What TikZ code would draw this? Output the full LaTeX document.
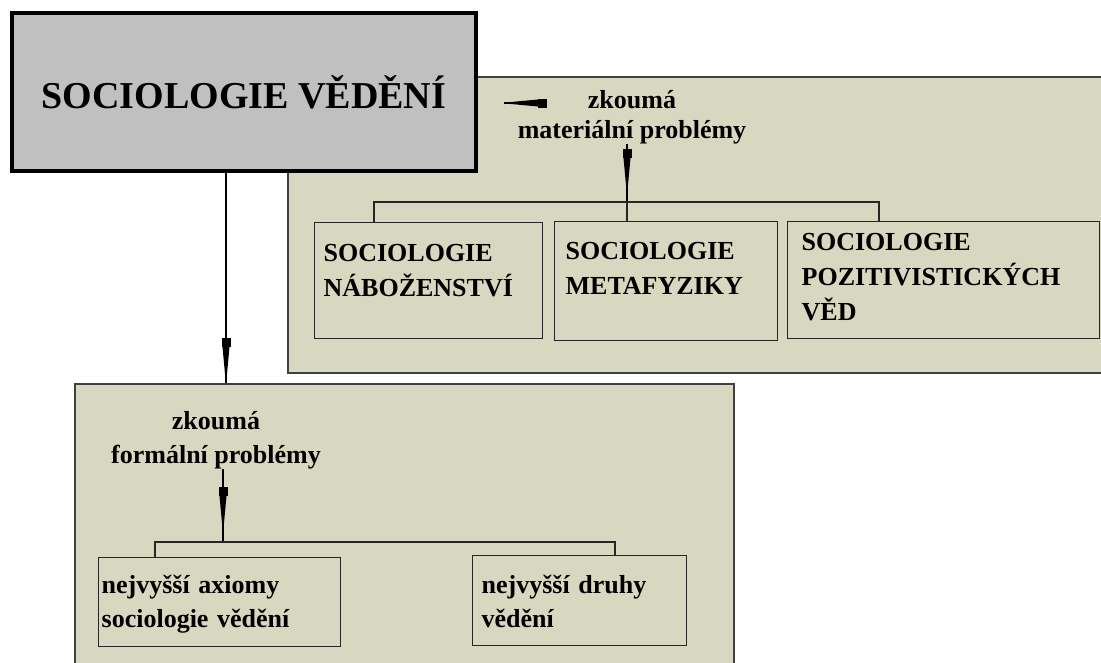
\documentclass[tikz,border=0pt]{standalone}
\usepackage{fontspec}
\setmainfont{Liberation Serif}
\usepackage{tikz}
\usetikzlibrary{arrows.meta, positioning, decorations.markings}
\definecolor{panelfill}{RGB}{216, 215, 192}
\definecolor{panelline}{RGB}{64, 64, 64}
\definecolor{titlegray}{RGB}{192, 192, 192}
\tikzstyle{panel} = [
    rectangle,
    draw=panelline,
    line width=1.6pt,
    fill=panelfill,
    anchor=north west,
    inner sep=0pt
]
\tikzstyle{headbox} = [
    rectangle,
    draw=black,
    line width=4pt,
    fill=titlegray,
    minimum width=464pt,
    minimum height=158pt,
    font=\fontsize{38}{44}\selectfont\bfseries
]
\tikzstyle{leaf} = [
    rectangle,
    draw=black!85,
    line width=1.3pt,
    fill=panelfill,
    anchor=north west,
    align=left,
    inner xsep=9pt,
    inner ysep=0pt,
    font=\fontsize{26}{35}\selectfont\bfseries
]
\tikzstyle{captext} = [
    align=center,
    inner sep=0pt,
    font=\fontsize{26}{30}\selectfont\bfseries
]
\tikzstyle{conn} = [line width=1.2pt, draw=black]
\tikzstyle{fork} = [line width=1.3pt, draw=black!85]
\tikzset{nib/.style={
    postaction={decorate},
    decoration={markings, mark=at position -#1 with {
        \fill (-36pt,-4.5pt) rectangle (-27pt,4.5pt);
        \fill (-27pt,3.5pt) -- (0pt,1pt) -- (0pt,-1pt) -- (-27pt,-3.5pt) -- cycle;}}
}}

\begin{document}
\begin{tikzpicture}[x=1pt, y=-1pt]
        \useasboundingbox[fill=white] (0,0) rectangle (1101,662);

        % panels
        \node[panel, minimum width=828pt, minimum height=296pt] (matpanel) at (287,76) {};
        \node[panel, minimum width=659pt, minimum height=300pt] (formpanel) at (74,383) {};

        \node[headbox] (sv) at (244,92) {SOCIOLOGIE VĚDĚNÍ};

        % material problems
        \node[captext, anchor=base] (matlabel) at (632,138) {zkoumá\\materiální problémy};
        \node[leaf, text width=210pt, text height=39pt, text depth=77pt] (nab) at (314,222) {SOCIOLOGIE\\NÁBOŽENSTVÍ};
        \node[leaf, inner xsep=11pt, text width=201pt, text height=38pt, text depth=81pt] (meta) at (554,221) {SOCIOLOGIE\\METAFYZIKY};
        \node[leaf, inner xsep=14pt, text width=284pt, text height=29pt, text depth=88pt] (pozit) at (787,221) {SOCIOLOGIE\\POZITIVISTICKÝCH\\VĚD};

        \coordinate (matfork) at (627,202);
        \coordinate (matlink) at (545,103);
        \draw[conn, nib=17pt] (matlabel.south -| matfork) -- (matfork);
        \draw[fork] ([xshift=60pt]nab.north west) |- (matfork) -| ([xshift=92pt]pozit.north west);
        \draw[fork] (matfork) -- (matfork |- meta.north);
        \draw[conn, nib=7pt] (matlink) -- ([xshift=26pt]sv.east |- matlink);

        % formal problems
        \draw[conn, nib=9pt] ([xshift=-18pt]sv.south) -- ([xshift=-18pt]sv.south |- formpanel.north);
        \node[captext, anchor=base, font=\fontsize{26}{34}\selectfont\bfseries] (formlabel) at (216,463) {zkoumá\\formální problémy};
        \node[leaf, inner xsep=3pt, text width=236pt, text height=36pt, text depth=53pt, font=\fontsize{26}{34}\selectfont\bfseries] (axiom) at (98,557) {nejvyšší axiomy\\sociologie vědění};
        \node[leaf, text width=196pt, text height=38pt, text depth=52pt, font=\fontsize{26}{34}\selectfont\bfseries] (druhy) at (472,555) {nejvyšší druhy\\vědění};

        \coordinate (formfork) at (223,542);
        \draw[conn, nib=19pt] (formlabel.south -| formfork) -- (formfork);
        \draw[fork] ([xshift=57pt]axiom.north west) |- (formfork) -| ([xshift=143pt]druhy.north west);
    \end{tikzpicture}
\end{document}
